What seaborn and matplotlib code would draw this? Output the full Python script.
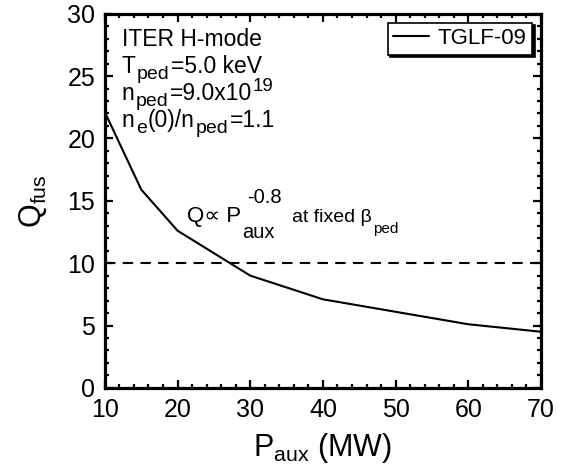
import matplotlib
matplotlib.use("Agg")
import matplotlib.pyplot as plt
import matplotlib.transforms as mtransforms
import seaborn as sns
import pandas as pd
from matplotlib.ticker import MultipleLocator

# Fusion gain versus auxiliary heating power (TGLF-09 predictions)
p_aux = [10, 15, 20, 30, 40, 50, 60, 70]
q_fus = [22.1, 15.9, 12.6, 9.0, 7.1, 6.1, 5.1, 4.5]
series_name = "TGLF-09"
q_target = 10

df = pd.DataFrame({"P_aux": p_aux, "Q_fus": q_fus, "model": [series_name] * len(p_aux)})

sns.set_style("ticks")
plt.rcParams["font.family"] = ["Liberation Sans", "DejaVu Sans"]
plt.rcParams["mathtext.fontset"] = "custom"
plt.rcParams["mathtext.rm"] = "Liberation Sans"
plt.rcParams["mathtext.it"] = "Liberation Sans:italic"
plt.rcParams["mathtext.bf"] = "Liberation Sans:bold"
for key in ["text.color", "axes.labelcolor", "xtick.color", "ytick.color", "axes.edgecolor"]:
    plt.rcParams[key] = "black"

fig = plt.figure(figsize=(5.67, 4.73), dpi=100)
ax = fig.add_axes([0.185, 0.180, 0.769, 0.791])
renderer = fig.canvas.get_renderer()


def rich_text(x, y, pieces, size, sub_size, sub_drop, sup_size, sup_rise,
              family=("Liberation Sans", "DejaVu Sans")):
    """Draw a run of normal / subscript / superscript pieces on one baseline
    (axes coords), placing each piece after the previous one."""
    dx = 0.0  # running horizontal offset in points
    sub_start = None
    for s, kind in pieces:
        if kind == "sub":
            fs, dy = sub_size, -sub_drop
            sub_start = dx
        elif kind == "sup":
            fs, dy = sup_size, sup_rise
        else:
            fs, dy = size, 0.0
        x0 = dx
        if kind == "sup" and sub_start is not None:
            x0 = sub_start + 3.5  # stacked over the preceding subscript
        off = mtransforms.ScaledTranslation(x0 / 72, dy / 72, fig.dpi_scale_trans)
        t = ax.text(x, y, s, transform=ax.transAxes + off, fontsize=fs,
                    va="baseline", ha="left", family=list(family))
        w = t.get_window_extent(renderer).width * 72 / fig.dpi + 0.8
        dx = max(dx, x0 + w)
        if kind != "sub":
            sub_start = None


sns.lineplot(data=df, x="P_aux", y="Q_fus", hue="model", palette=["black"],
             linewidth=1.5, ax=ax)
ax.axhline(q_target, color="black", linestyle=(0, (5, 3.5)), linewidth=1.5)

ax.set_xlim(10, 70)
ax.set_ylim(0, 30)
ax.xaxis.set_major_locator(MultipleLocator(10))
ax.xaxis.set_minor_locator(MultipleLocator(2))
ax.yaxis.set_major_locator(MultipleLocator(5))
ax.yaxis.set_minor_locator(MultipleLocator(1))
ax.tick_params(which="both", direction="in", top=True, right=True,
               width=1.6, labelsize=18)
ax.tick_params(which="major", length=6, pad=7)
ax.tick_params(which="minor", length=3)
for sp in ax.spines.values():
    sp.set_linewidth(2.3)

ax.set_xlabel(r"P$_{\rm aux}$ (MW)", fontsize=22, labelpad=7)
ax.set_ylabel(r"Q$_{\rm fus}$", fontsize=22, labelpad=13)

# Case parameters, upper left
info = [
    [("ITER H-mode", "n")],
    [("T", "n"), ("ped", "sub"), ("=5.0 keV", "n")],
    [("n", "n"), ("ped", "sub"), ("=9.0x10", "n"), ("19", "sup")],
    [("n", "n"), ("e", "sub"), ("(0)/n", "n"), ("ped", "sub"), ("=1.1", "n")],
]
for i, line in enumerate(info):
    rich_text(0.039, 0.914 - i * 0.072, line, size=16.5,
              sub_size=14, sub_drop=4.5, sup_size=13.5, sup_rise=6)

# Scaling annotation
rich_text(0.188, 0.444, [("Q\u221d P", "n"), ("aux", "sub"), ("-0.8", "sup")],
          size=16, sub_size=14.5, sub_drop=12, sup_size=14.5, sup_rise=13.5)
rich_text(0.429, 0.444, [("at fixed \u03b2", "n"), ("ped", "sub")],
          size=14, sub_size=11, sub_drop=8, sup_size=11, sup_rise=6,
          family=("Liberation Sans Narrow", "Liberation Sans"))

leg = ax.legend(loc="upper right", fontsize=16, frameon=True, fancybox=False,
                shadow={"color": "black", "alpha": 1, "ox": 2, "oy": -2},
                framealpha=1, edgecolor="black",
                handlelength=1.6, borderpad=0.25, handletextpad=0.4,
                borderaxespad=0.4)
leg.get_frame().set_linewidth(1.2)

fig.savefig("out.png", dpi=100)
